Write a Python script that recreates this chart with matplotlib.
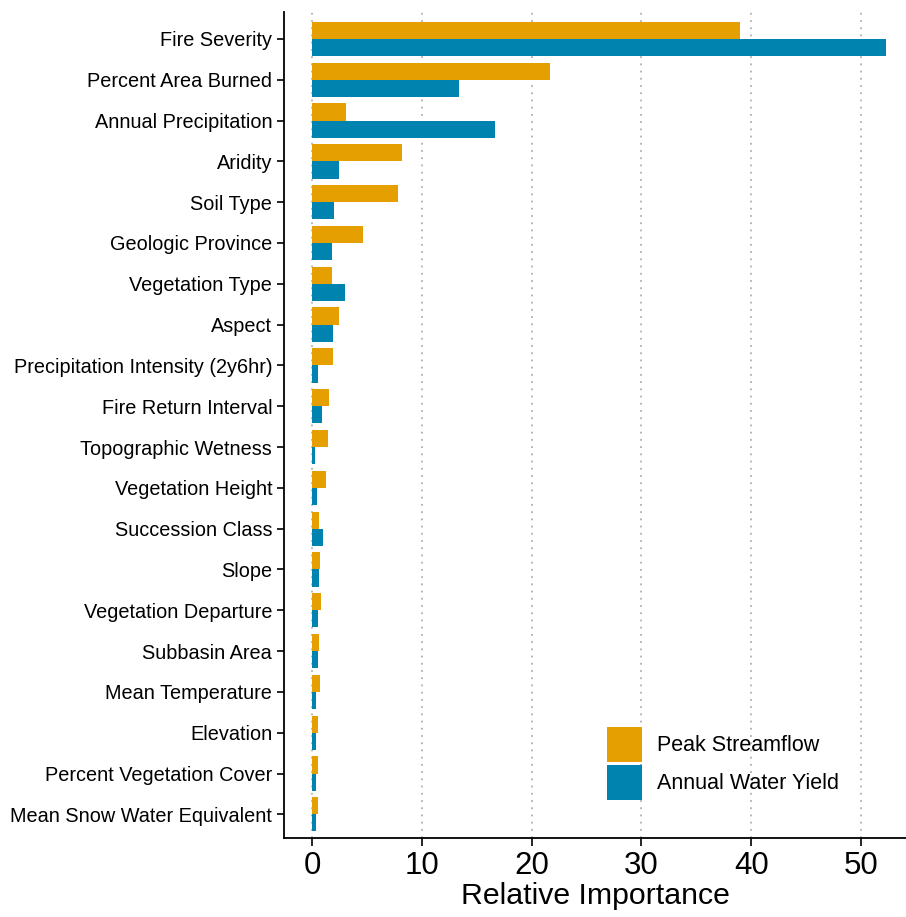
import matplotlib
matplotlib.use("Agg")
import matplotlib.pyplot as plt
from matplotlib.patches import Patch
import numpy as np

plt.rcParams['font.family'] = ['Liberation Sans', 'DejaVu Sans']

variables = [
    "Fire Severity", "Percent Area Burned", "Annual Precipitation", "Aridity",
    "Soil Type", "Geologic Province", "Vegetation Type", "Aspect",
    "Precipitation Intensity (2y6hr)", "Fire Return Interval",
    "Topographic Wetness", "Vegetation Height", "Succession Class", "Slope",
    "Vegetation Departure", "Subbasin Area", "Mean Temperature", "Elevation",
    "Percent Vegetation Cover", "Mean Snow Water Equivalent",
]
peak_streamflow = [39.0, 21.7, 3.06, 8.2, 7.8, 4.65, 1.81, 2.48, 1.9, 1.51,
                   1.42, 1.3, 0.68, 0.72, 0.82, 0.66, 0.72, 0.51, 0.57, 0.54]
annual_water_yield = [52.3, 13.4, 16.7, 2.45, 1.98, 1.84, 3.0, 1.9, 0.57, 0.94,
                      0.3, 0.45, 1.0, 0.66, 0.54, 0.57, 0.33, 0.39, 0.33, 0.33]

orange = "#E69F00"
blue = "#0083AE"

fig = plt.figure(figsize=(9.06, 9.17), dpi=100)
ax = fig.add_axes([284 / 906, 1 - 838 / 917, 1 - 284 / 906, (838 - 12) / 917])

n = len(variables)
ypos = np.arange(n)[::-1]
h = 0.42
ax.barh(ypos + h / 2, peak_streamflow, height=h, color=orange, zorder=3)
ax.barh(ypos - h / 2, annual_water_yield, height=h, color=blue, zorder=3)

ax.set_xlim(-2.55, 54.1)
ax.set_ylim(-0.58, n - 1 + 0.66)
ax.set_xticks([0, 10, 20, 30, 40, 50])
ax.set_yticks(ypos)
ax.set_yticklabels(variables, fontsize=14.3, color="black")
ax.tick_params(axis='x', labelsize=22.5, length=6, width=1.2, pad=3)
ax.tick_params(axis='y', length=5, width=1.2, pad=3.5)
ax.xaxis.grid(True, linestyle=(0, (1, 3)), color="#b0b0b0", linewidth=1.3, zorder=0)

for side in ["top", "right"]:
    ax.spines[side].set_visible(False)
for side in ["left", "bottom"]:
    ax.spines[side].set_linewidth(1.3)

ax.set_xlabel("Relative Importance", fontsize=21.8, labelpad=1)

# square legend keys stacked with a small gap
handles = [Patch(facecolor=orange, label="Peak Streamflow"),
           Patch(facecolor=blue, label="Annual Water Yield")]
fig.legend(handles=handles, loc="lower left",
           bbox_to_anchor=(607 / 906, 1 - 800 / 917), frameon=False,
           fontsize=15.5, handlelength=1.63, handleheight=2.12,
           labelspacing=0.14, handletextpad=0.7, borderpad=0, borderaxespad=0)

fig.savefig("out.png", dpi=100)
